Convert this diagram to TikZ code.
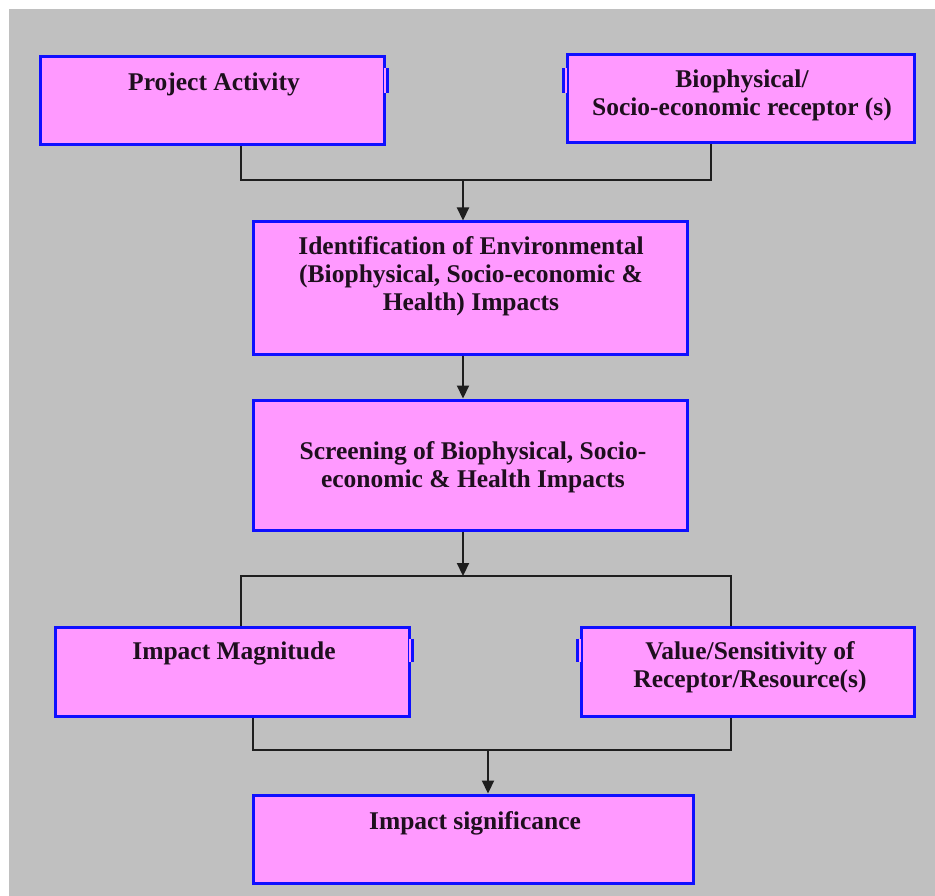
\documentclass[tikz,border=0pt]{standalone}
\usepackage{fontspec}
\setmainfont{Liberation Serif}
\usetikzlibrary{arrows.meta,calc}
\definecolor{bggray}{RGB}{192,192,192}
\definecolor{boxpink}{RGB}{255,153,255}
\definecolor{boxblue}{RGB}{15,15,255}
\definecolor{txtdark}{RGB}{30,15,30}
\definecolor{linegray}{RGB}{30,30,30}
\begin{document}
\begin{tikzpicture}[x=1pt,y=-1pt,
 box/.style={draw=boxblue, fill=boxpink, line width=3pt, rectangle, inner sep=0pt},
 txt/.style={text=txtdark, font=\fontsize{25.5}{28}\selectfont\bfseries, align=center, inner sep=0pt},
 conn/.style={draw=linegray, line width=2.2pt},
 arr/.style={conn, -{Triangle[width=12pt,length=13pt]}},
 notch/.style={draw=boxblue, line width=3pt},
 notchfill/.style={fill=boxpink}]
\useasboundingbox (0,0) rectangle (935,896);
\fill[bggray] (9,9) rectangle (935,896);
% boxes
\node[box, minimum width=344pt, minimum height=88pt] (pa) at (212,101) {};
\node[box, minimum width=347pt, minimum height=88pt] (br) at (740.5,99) {};
\node[box, minimum width=434pt, minimum height=132pt] (id) at (470,288) {};
\node[box, minimum width=434pt, minimum height=130pt] (sc) at (470,465) {};
\node[box, minimum width=354pt, minimum height=89pt] (im) at (232,671.5) {};
\node[box, minimum width=333pt, minimum height=89pt] (vs) at (747.5,671.5) {};
\node[box, minimum width=440pt, minimum height=88pt] (is) at (473,839) {};
% notches (small outward jogs of the border)
\fill[notchfill] ([xshift=-1.5pt,yshift=-13pt]pa.north east) rectangle ([xshift=1pt,yshift=-38pt]pa.north east);
\draw[notch] ([xshift=2pt,yshift=-13pt]pa.north east) -- ([xshift=2pt,yshift=-38pt]pa.north east);
\fill[notchfill] ([xshift=1.5pt,yshift=-15pt]br.north west) rectangle ([xshift=-1pt,yshift=-40pt]br.north west);
\draw[notch] ([xshift=-2pt,yshift=-15pt]br.north west) -- ([xshift=-2pt,yshift=-40pt]br.north west);
\fill[notchfill] ([xshift=-1.5pt,yshift=-13pt]im.north east) rectangle ([xshift=1pt,yshift=-36pt]im.north east);
\draw[notch] ([xshift=2pt,yshift=-13pt]im.north east) -- ([xshift=2pt,yshift=-36pt]im.north east);
\fill[notchfill] ([xshift=1.5pt,yshift=-13pt]vs.north west) rectangle ([xshift=-1pt,yshift=-36pt]vs.north west);
\draw[notch] ([xshift=-2pt,yshift=-13pt]vs.north west) -- ([xshift=-2pt,yshift=-36pt]vs.north west);
% texts
\node[txt] (pa-t) at (214,84) {Project Activity};
\node[txt] (br-t) at (742,95) {Biophysical/\\Socio-economic receptor (s)};
\node[txt] (id-t) at (471,276) {Identification of Environmental\\(Biophysical, Socio-economic \&\\Health) Impacts};
\node[txt] (sc-t) at (473,467) {Screening of Biophysical, Socio-\\economic \& Health Impacts};
\node[txt] (im-t) at (234,653) {Impact Magnitude};
\node[txt] (vs-t) at (750,667) {Value/Sensitivity of\\Receptor/Resource(s)};
\node[txt] (is-t) at (475,823) {Impact significance};
% junctions
\coordinate (j1) at (463,180);
\coordinate (j2) at (463,576);
\coordinate (j3) at (488,750);
% connectors
\draw[conn] ([xshift=29pt]pa.south) |- (j1) -| ([xshift=-29.5pt]br.south);
\draw[arr] (j1) -- (j1 |- id.north);
\draw[arr] ([xshift=-7pt]id.south) -- ([xshift=-7pt]sc.north);
\draw[arr] ([xshift=-7pt]sc.south) -- (j2);
\draw[conn] ([xshift=9pt]im.north) |- (j2) -| ([xshift=-16.5pt]vs.north);
\draw[conn] ([xshift=21pt]im.south) |- (j3) -| ([xshift=-16.5pt]vs.south);
\draw[arr] (j3) -- (j3 |- is.north);
\end{tikzpicture}
\end{document}
